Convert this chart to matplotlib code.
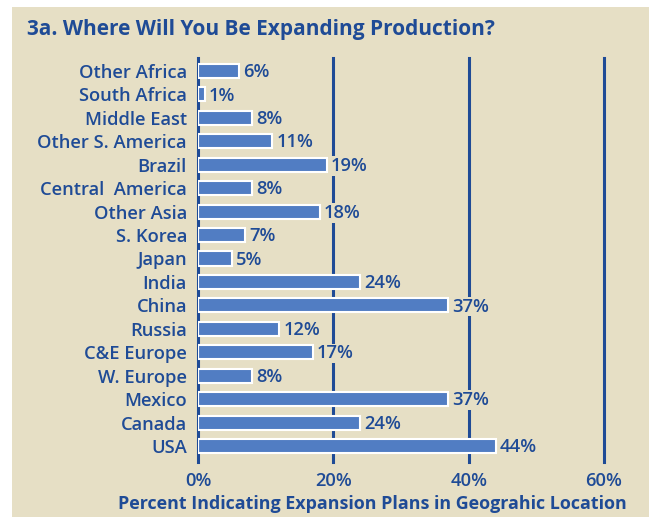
import matplotlib.pyplot as plt
from matplotlib.patches import Rectangle

# data
regions = ['USA', 'Canada', 'Mexico', 'W. Europe', 'C&E Europe', 'Russia', 'China',
           'India', 'Japan', 'S. Korea', 'Other Asia', 'Central  America', 'Brazil',
           'Other S. America', 'Middle East', 'South Africa', 'Other Africa']
percents = [44, 24, 37, 8, 17, 12, 37, 24, 5, 7, 18, 8, 19, 11, 8, 1, 6]
ticks = [0, 20, 40, 60]

bg = '#E6DFC5'
navy = '#1F4B96'
barc = '#517DC3'

plt.rcParams['font.family'] = ['Open Sans', 'DejaVu Sans']
plt.rcParams['font.weight'] = 'semibold'

fig = plt.figure(figsize=(6.49, 5.17), dpi=100, facecolor='white')
fig.patches.append(Rectangle((12 / 649, 0), 1, 1 - 7 / 517, transform=fig.transFigure,
                             facecolor=bg, edgecolor='none', zorder=-10))

W, H = 649, 517
ax = fig.add_axes([198 / W, 1 - 462 / H, (604 - 198) / W, (462 - 58) / H])
ax.set_facecolor('none')

y = list(range(len(regions)))
ax.barh(y, percents, height=0.6, color=barc, edgecolor='white', linewidth=1.5, zorder=3)
for t in ticks:
    ax.axvline(t, color=navy, linewidth=2.2, zorder=1, clip_on=False)

for yi, v in zip(y, percents):
    ax.text(v + 0.6, yi - 0.05, f'{v}%', va='center', ha='left', fontsize=13.2, color=navy,
            zorder=4, bbox=dict(boxstyle='square,pad=0.05', facecolor=bg, edgecolor='none'))

ax.set_xlim(0, 60)
ax.set_ylim(-0.68, 16.55)
ax.set_yticks(y)
ax.set_yticklabels(regions, fontsize=13.2, color=navy)
ax.set_xticks(ticks)
ax.set_xticklabels([f'{t}%' for t in ticks], fontsize=13.2, color=navy)
ax.tick_params(length=0)
ax.tick_params(axis='y', pad=8)
ax.tick_params(axis='x', pad=7)
for s in ax.spines.values():
    s.set_visible(False)

fig.text(372 / W, 1 - 504 / H, 'Percent Indicating Expansion Plans in Geograhic Location',
         fontsize=12.9, fontweight='bold', color=navy, ha='center', va='center')
fig.text(27 / W, 1 - 30 / H, '3a. Where Will You Be Expanding Production?', fontsize=15,
         fontweight='bold', color=navy, va='center', ha='left')

fig.savefig('out.png', dpi=100, facecolor=fig.get_facecolor())
